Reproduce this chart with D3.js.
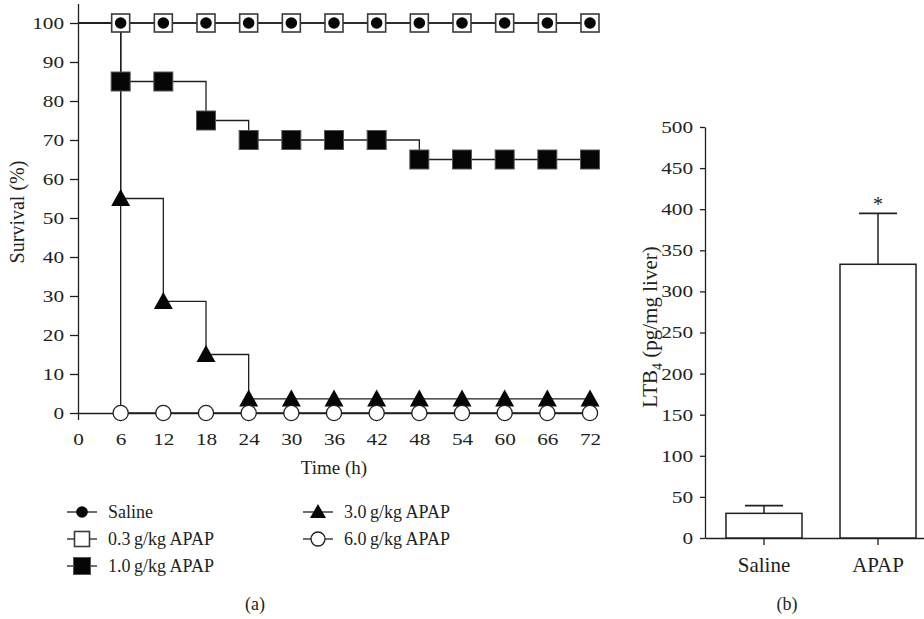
<!DOCTYPE html>
<html>
<head>
<meta charset="utf-8">
<script src="https://cdn.jsdelivr.net/npm/d3@7/dist/d3.min.js"></script>
<style>
  html, body { margin: 0; padding: 0; background: #fff; }
  svg { display: block; }
  text { font-family: "Liberation Serif", "Times New Roman", serif; fill: #231f20; }
</style>
</head>
<body>
<svg id="chart" width="924" height="619"></svg>
<script>
// ---- Panel (a): survival over time ----
const hours = [6, 12, 18, 24, 30, 36, 42, 48, 54, 60, 66, 72];
const xTicks = [0, 6, 12, 18, 24, 30, 36, 42, 48, 54, 60, 66, 72];
const yTicks = [0, 10, 20, 30, 40, 50, 60, 70, 80, 90, 100];
const saline   = [100, 100, 100, 100, 100, 100, 100, 100, 100, 100, 100, 100];
const apap03   = [100, 100, 100, 100, 100, 100, 100, 100, 100, 100, 100, 100];
const apap10   = [85, 85, 75, 70, 70, 70, 70, 65, 65, 65, 65, 65];
const apap30   = [55, 28.6, 15, 3.6, 3.6, 3.6, 3.6, 3.6, 3.6, 3.6, 3.6, 3.6];
const apap60   = [0, 0, 0, 0, 0, 0, 0, 0, 0, 0, 0, 0];
const seriesNames = ["Saline", "0.3\u2009g/kg APAP", "1.0\u2009g/kg APAP", "3.0\u2009g/kg APAP", "6.0\u2009g/kg APAP"];

// ---- Panel (b): LTB4 content ----
const groups = ["Saline", "APAP"];
const ltb4Mean = [30, 333];
const ltb4Err = [9.5, 62];
const ltb4Ticks = [0, 50, 100, 150, 200, 250, 300, 350, 400, 450, 500];
const ltb4Marks = ["", "*"];

const svg = d3.select("#chart");
const ink = "#231f20";
const serif = '"Liberation Serif", "Times New Roman", serif';
const digitWiden = 1.25;   // numerals are set wide and short

// style axis lines and give tick numerals their wide setting
function styleNumericAxis(a, size) {
  a.attr("font-family", serif);
  a.selectAll("path, line").attr("stroke", ink).attr("stroke-width", 1.3);
  a.selectAll(".tick text").each(function () {
    const t = d3.select(this);
    const x0 = +t.attr("x") || 0;
    t.attr("x", x0 / digitWiden)
      .attr("transform", `scale(${digitWiden},1)`)
      .attr("font-size", size)
      .attr("fill", ink);
  });
}

// ===== Panel (a) =====
const x = d3.scaleLinear().domain([0, 72]).range([78, 590]);
const y = d3.scaleLinear().domain([0, 105]).range([413, 3.5]);

const gA = svg.append("g");

// y axis
const yAxis = gA.append("g")
  .attr("transform", `translate(${x(0)},0)`)
  .call(d3.axisLeft(y).tickValues(yTicks).tickSize(8).tickSizeOuter(0).tickPadding(6));

// x axis (labels only, single tick at origin)
const xAxis = gA.append("g")
  .attr("transform", `translate(0,${y(0)})`)
  .call(d3.axisBottom(x).tickValues(xTicks).tickSize(0).tickSizeOuter(0).tickPadding(20));
xAxis.selectAll(".tick line").filter(d => d === 0).attr("y2", 7);

styleNumericAxis(yAxis, 17);
styleNumericAxis(xAxis, 17);

// step curves, each starting from 100% at time zero
const allSeries = [saline, apap03, apap10, apap30, apap60];
const stepLine = d3.line()
  .x(d => x(d[0]))
  .y(d => y(d[1]))
  .curve(d3.curveStepAfter);

allSeries.forEach(vals => {
  const pts = [[0, 100]].concat(hours.map((h, i) => [h, vals[i]]));
  gA.append("path")
    .attr("d", stepLine(pts))
    .attr("fill", "none")
    .attr("stroke", ink)
    .attr("stroke-width", 1.3);
});

// marker painters
function openSquare(g, cx, cy, s) {
  g.append("rect").attr("x", cx - s / 2).attr("y", cy - s / 2)
    .attr("width", s).attr("height", s)
    .attr("fill", "#fff").attr("stroke", "#3a3a3a").attr("stroke-width", 1.6);
}
function filledSquare(g, cx, cy, s) {
  g.append("rect").attr("x", cx - s / 2).attr("y", cy - s / 2)
    .attr("width", s).attr("height", s)
    .attr("fill", "#060606").attr("stroke", "#555").attr("stroke-width", 1);
}
function filledCircle(g, cx, cy, r) {
  g.append("circle").attr("cx", cx).attr("cy", cy).attr("r", r).attr("fill", "#060606");
}
function openCircle(g, cx, cy, r) {
  g.append("circle").attr("cx", cx).attr("cy", cy).attr("r", r)
    .attr("fill", "#fff").attr("stroke", ink).attr("stroke-width", 1.3);
}
function triangle(g, cx, cy, w, h) {
  g.append("path")
    .attr("d", `M${cx},${cy - h / 2 - 1}L${cx + w / 2},${cy + h / 2 - 1}L${cx - w / 2},${cy + h / 2 - 1}Z`)
    .attr("fill", "#060606");
}

const markerPainters = [
  (g, cx, cy) => filledCircle(g, cx, cy, 5.8),
  (g, cx, cy) => openSquare(g, cx, cy, 18),
  (g, cx, cy) => filledSquare(g, cx, cy, 19),
  (g, cx, cy) => triangle(g, cx, cy, 19, 17),
  (g, cx, cy) => openCircle(g, cx, cy, 7.6)
];

// paint order: open squares, filled squares, triangles, open circles, saline dots
const gMarks = gA.append("g");
[1, 2, 3, 4, 0].forEach(si => {
  hours.forEach((h, i) => markerPainters[si](gMarks, x(h), y(allSeries[si][i])));
});

// axis titles
gA.append("text")
  .attr("x", 334).attr("y", 474)
  .attr("text-anchor", "middle").attr("font-size", 19)
  .text("Time (h)");
gA.append("text")
  .attr("transform", "translate(24,212) rotate(-90)")
  .attr("text-anchor", "middle").attr("font-size", 20)
  .text("Survival (%)");

// legend
const legendPos = [
  { lx: 82, ly: 512 }, { lx: 82, ly: 539 }, { lx: 82, ly: 566 },
  { lx: 318, ly: 512 }, { lx: 318, ly: 539 }
];
const legendMarkerSize = [
  (g, cx, cy) => filledCircle(g, cx, cy, 5.8),
  (g, cx, cy) => openSquare(g, cx, cy, 15),
  (g, cx, cy) => filledSquare(g, cx, cy, 17),
  (g, cx, cy) => triangle(g, cx, cy, 16, 14),
  (g, cx, cy) => openCircle(g, cx, cy, 7)
];
const gLeg = svg.append("g");
seriesNames.forEach((name, i) => {
  const p = legendPos[i];
  gLeg.append("line")
    .attr("x1", p.lx - 15).attr("x2", p.lx + 15)
    .attr("y1", p.ly).attr("y2", p.ly)
    .attr("stroke", ink).attr("stroke-width", 1.3);
  legendMarkerSize[i](gLeg, p.lx, p.ly);
  gLeg.append("text")
    .attr("x", p.lx + 26).attr("y", p.ly + 6)
    .attr("font-size", 18)
    .text(name);
});

svg.append("text").attr("x", 255).attr("y", 610)
  .attr("text-anchor", "middle").attr("font-size", 18).text("(a)");

// ===== Panel (b) =====
const yB = d3.scaleLinear().domain([0, 500]).range([538, 127]);
const xB = d3.scaleBand().domain(groups)
  .range([705, 937]).paddingInner(1 / 3).paddingOuter(0.184);

const gB = svg.append("g");

const yAxisB = gB.append("g")
  .attr("transform", `translate(705,0)`)
  .call(d3.axisLeft(yB).tickValues(ltb4Ticks).tickSize(5).tickSizeOuter(0).tickPadding(7));
const xAxisB = gB.append("g")
  .attr("transform", `translate(0,${yB(0)})`)
  .call(d3.axisBottom(xB).tickSize(7).tickSizeOuter(0).tickPadding(12));

styleNumericAxis(yAxisB, 17);
xAxisB.attr("font-family", serif);
xAxisB.selectAll("path, line").attr("stroke", ink).attr("stroke-width", 1.3);
xAxisB.selectAll("text").attr("font-size", 21).attr("fill", ink);

// bars
gB.selectAll("rect.bar").data(groups).join("rect")
  .attr("class", "bar")
  .attr("x", d => xB(d))
  .attr("width", xB.bandwidth())
  .attr("y", (d, i) => yB(ltb4Mean[i]))
  .attr("height", (d, i) => yB(0) - yB(ltb4Mean[i]))
  .attr("fill", "#fff").attr("stroke", ink).attr("stroke-width", 1.5);

// upward error bars
groups.forEach((g, i) => {
  const cx = xB(g) + xB.bandwidth() / 2;
  const top = yB(ltb4Mean[i] + ltb4Err[i]);
  gB.append("line").attr("x1", cx).attr("x2", cx)
    .attr("y1", yB(ltb4Mean[i])).attr("y2", top)
    .attr("stroke", ink).attr("stroke-width", 1.5);
  gB.append("line").attr("x1", cx - 19).attr("x2", cx + 19)
    .attr("y1", top).attr("y2", top)
    .attr("stroke", ink).attr("stroke-width", 1.8);
  if (ltb4Marks[i]) {
    gB.append("text").attr("x", cx).attr("y", top - 2)
      .attr("text-anchor", "middle").attr("font-size", 20)
      .text(ltb4Marks[i]);
  }
});

// y title with subscript
const ttl = gB.append("text")
  .attr("transform", "translate(657,327) rotate(-90)")
  .attr("text-anchor", "middle").attr("font-size", 21);
ttl.append("tspan").text("LTB");
ttl.append("tspan").attr("dy", 5).attr("font-size", 14).text("4");
ttl.append("tspan").attr("dy", -5).text(" (pg/mg liver)");

svg.append("text").attr("x", 787).attr("y", 610)
  .attr("text-anchor", "middle").attr("font-size", 18).text("(b)");
</script>
</body>
</html>
